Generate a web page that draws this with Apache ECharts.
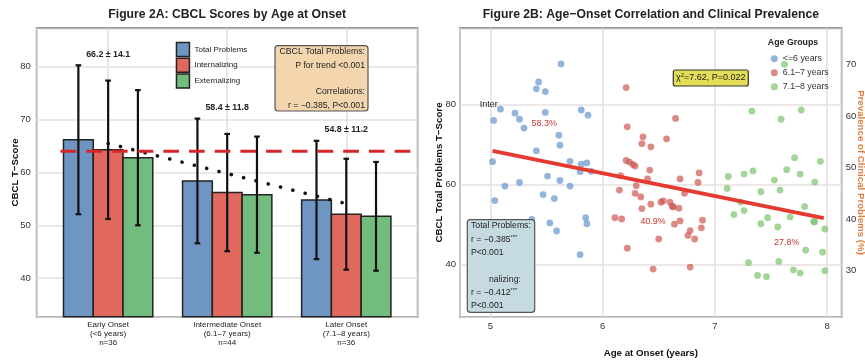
<!DOCTYPE html>
<html>
<head>
<meta charset="utf-8">
<script src="https://cdn.jsdelivr.net/npm/echarts@6/dist/echarts.min.js"></script>
<style>
  html, body { margin: 0; padding: 0; background: #fff; }
  #chart { width: 865px; height: 362px; }
</style>
</head>
<body>
<div id="chart"></div>
<script>
// ---- Figure 2A: group means / SDs ----
const groups = ["Early Onset\n(<6 years)\nn=36", "Intermediate Onset\n(6.1–7 years)\nn=44", "Later Onset\n(7.1–8 years)\nn=36"];
const measures = ["Total Problems", "Internalizing", "Externalizing"];
const meanTotal = [66.2, 58.4, 54.8];
const sdTotal = [14.1, 11.8, 11.2];
const meanInt = [64.3, 56.2, 52.1];
const sdInt = [13.1, 11.1, 10.5];
const meanExt = [62.8, 55.8, 51.7];
const sdExt = [12.8, 11.0, 10.3];
const trendTotal = [65.5, 59.8, 54.1];
const clinicalCut = 64;

// ---- Figure 2B: individual points ----
const ageGroups = ["<=6 years", "6.1–7 years", "7.1–8 years"];
const ageEarly = [5.63, 5.43, 5.41, 5.49, 5.09, 5.22, 5.49, 5.81, 5.03, 5.26, 5.30, 5.87, 5.61, 5.62, 5.41, 5.02, 5.71, 5.81,
  5.86, 5.80, 5.90, 5.51, 5.62, 5.26, 5.13, 5.71, 5.04, 5.47, 5.57, 5.37, 5.53, 5.59, 5.85, 5.86, 5.80];
const tEarly = [90.1, 85.6, 83.9, 83.2, 78.8, 77.8, 78.0, 78.6, 76.0, 76.3, 74.1, 77.3, 72.3, 69.8, 68.4, 65.7, 65.8, 65.1,
  65.4, 63.2, 63.3, 62.1, 61.0, 60.5, 59.6, 59.6, 56.0, 57.5, 56.5, 51.3, 50.4, 48.4, 51.7, 50.2, 42.5];
const ageMid = [6.21, 6.65, 6.22, 6.36, 6.57, 6.35, 6.43, 6.21, 6.24, 6.27, 6.29, 6.42, 6.86, 6.16, 6.40, 6.69, 6.85, 6.15,
  6.30, 6.29, 6.34, 6.73, 6.43, 6.35, 6.52, 6.54, 6.60, 6.62, 6.63, 6.68, 6.11, 6.17, 6.69, 6.64, 6.89, 6.88, 6.78, 6.76,
  6.82, 6.50, 6.22, 6.45, 6.78];
const tMid = [84.2, 76.5, 74.4, 71.9, 71.4, 70.2, 69.4, 66.0, 65.6, 65.0, 64.6, 63.6, 62.9, 62.2, 61.4, 61.4, 60.5, 58.6,
  59.7, 57.8, 56.9, 57.8, 55.1, 54.0, 55.6, 55.9, 55.6, 54.6, 54.4, 54.1, 51.7, 51.4, 50.9, 50.1, 51.1, 49.2, 48.5, 47.3,
  46.4, 46.4, 44.1, 38.9, 39.4];
const ageLate = [7.62, 7.33, 7.77, 7.59, 7.71, 7.94, 7.64, 7.76, 7.12, 7.26, 7.34, 7.53, 7.89, 7.11, 7.41, 7.58, 7.23, 7.17,
  7.26, 7.41, 7.47, 7.67, 7.80, 7.56, 7.89, 7.88, 7.98, 7.81, 7.96, 7.30, 7.57, 7.70, 7.76, 7.38, 7.46, 7.98];
const tLate = [90.0, 78.3, 78.6, 76.3, 66.7, 65.8, 63.7, 62.6, 62.0, 62.6, 63.4, 61.1, 60.6, 59.0, 58.2, 58.6, 55.6, 52.5,
  53.5, 50.2, 51.7, 51.9, 54.5, 49.4, 50.7, 50.7, 48.9, 43.6, 43.1, 40.5, 40.8, 38.7, 37.9, 37.3, 37.0, 38.5];
const fitAge = [5.02, 7.97];
const fitT = [68.4, 51.6];
const prevLabels = ["58.3%", "40.9%", "27.8%"];
const prevAge = [5.48, 6.45, 7.64];
const prevT = [75.1, 50.8, 45.4];

const FONT = '"Liberation Sans", Arial, sans-serif';
const GRID_LINE = "#e7e0e0";
const BAR_COLORS = ["#6f96c2", "#e0685c", "#72bd7d"];
const DOT_COLORS = ["#6595cd", "#cc5952", "#7cc370"];
const BAR_W = 0.25;
const OFFSETS = [-0.25, 0, 0.25];
const Y_MIN_A = 32.7;

function f(size, weight) {
  return (weight ? weight + " " : "") + size + "px " + FONT;
}

function barSeries(k, means) {
  return {
    name: measures[k],
    type: "custom",
    xAxisIndex: 0,
    yAxisIndex: 0,
    itemStyle: { color: BAR_COLORS[k] },
    data: means.map((m, i) => [i, m]),
    z: 2,
    renderItem: (params, api) => {
      const x = api.value(0) + OFFSETS[k];
      const p1 = api.coord([x - BAR_W / 2, api.value(1)]);
      const p2 = api.coord([x + BAR_W / 2, Y_MIN_A]);
      return {
        type: "rect",
        shape: { x: p1[0], y: p1[1], width: p2[0] - p1[0], height: p2[1] - p1[1] },
        style: { fill: BAR_COLORS[k], stroke: "#222", lineWidth: 1.5 }
      };
    }
  };
}

const errData = [];
[[meanTotal, sdTotal], [meanInt, sdInt], [meanExt, sdExt]].forEach((pair, k) => {
  pair[0].forEach((m, i) => errData.push([i + OFFSETS[k], m, pair[1][i]]));
});

function textSeries(gridIdx, xs, ys, labels, font, color, align) {
  return {
    type: "custom",
    xAxisIndex: gridIdx,
    yAxisIndex: gridIdx,
    silent: true,
    z: 10,
    data: xs.map((x, i) => [x, ys[i]]),
    renderItem: (params, api) => {
      const p = api.coord([api.value(0), api.value(1)]);
      return {
        type: "text",
        x: p[0],
        y: p[1],
        style: { text: labels[params.dataIndex], font: font, fill: color, align: align || "center", verticalAlign: "middle" }
      };
    }
  };
}

function scatterSeries(k, ages, ts) {
  return {
    name: ageGroups[k],
    type: "scatter",
    xAxisIndex: 1,
    yAxisIndex: 1,
    symbolSize: 6.8,
    itemStyle: { color: DOT_COLORS[k], opacity: 0.7 },
    data: ages.map((a, i) => [a, ts[i]]),
    z: 3
  };
}

function label(x, y, text, font, color, align, rot) {
  return {
    type: "text", x: x, y: y, rotation: rot || 0, z: 100,
    style: { text: text, font: font, fill: color || "#222", align: align || "center", verticalAlign: "middle" }
  };
}

const supRich = {
  n: { font: f(8.7), fill: "#222" },
  s: { font: f(5.5), fill: "#222", verticalAlign: "top", padding: [0, 0, 4, 0] }
};

const chart = echarts.init(document.getElementById("chart"));
const option = {
  animation: false,
  backgroundColor: "#fff",
  textStyle: { fontFamily: FONT },
  grid: [
    { left: 36.7, top: 28.3, width: 381, height: 288.4, show: true, backgroundColor: "#fff", borderColor: "#333", borderWidth: 1.6 },
    { left: 460, top: 28.3, width: 381.7, height: 288.4, show: true, backgroundColor: "#fff", borderColor: "#333", borderWidth: 1.6 }
  ],
  xAxis: [
    {
      type: "value", gridIndex: 0, min: -0.6, max: 2.6, splitNumber: 3, minInterval: 1,
      axisLine: { show: false }, axisTick: { show: false },
      splitLine: { lineStyle: { color: GRID_LINE, width: 1.6 } },
      axisLabel: {
        margin: 4, fontSize: 8, lineHeight: 9, color: "#222", showMinLabel: false, showMaxLabel: false,
        formatter: (v) => {
          const i = Math.round(v);
          return Math.abs(v - i) < 1e-6 && i >= 0 && i < groups.length ? groups[i] : "";
        }
      }
    },
    {
      type: "value", gridIndex: 1, min: 4.73, max: 8.13, splitNumber: 3, minInterval: 1,
      axisLine: { show: false }, axisTick: { show: false },
      splitLine: { lineStyle: { color: GRID_LINE, width: 1.6 } },
      axisLabel: { margin: 5, fontSize: 9.5, color: "#333", showMinLabel: false, showMaxLabel: false }
    }
  ],
  yAxis: [
    {
      type: "value", gridIndex: 0, min: Y_MIN_A, max: 87.3,
      axisLine: { show: false }, axisTick: { show: false },
      splitLine: { lineStyle: { color: GRID_LINE, width: 1.6 } },
      axisLabel: { margin: 6, fontSize: 9.5, color: "#333", showMinLabel: false, showMaxLabel: false }
    },
    {
      type: "value", gridIndex: 1, min: 27, max: 99, splitNumber: 3, minInterval: 20,
      axisLine: { show: false }, axisTick: { show: false },
      splitLine: { lineStyle: { color: GRID_LINE, width: 1.6 } },
      axisLabel: { margin: 4, fontSize: 9.5, color: "#333", showMinLabel: false, showMaxLabel: false }
    },
    {
      type: "value", gridIndex: 1, position: "right", min: 21.1, max: 77.0,
      axisLine: { show: false }, axisTick: { show: false }, splitLine: { show: false },
      axisLabel: { margin: 4, fontSize: 9.5, color: "#333", showMinLabel: false, showMaxLabel: false }
    }
  ],
  legend: [
    {
      data: measures, orient: "vertical", left: 175.7, top: 41.7, padding: 0,
      icon: "rect", itemWidth: 13, itemHeight: 14, itemGap: 0.3,
      itemStyle: { borderColor: "#222", borderWidth: 1.5 },
      textStyle: { fontSize: 8, color: "#222" }, selectedMode: false
    },
    {
      data: ageGroups, orient: "vertical", left: 770.8, top: 53.2, padding: 0,
      icon: "circle", itemWidth: 7, itemHeight: 7, itemGap: 3,
      textStyle: { fontSize: 8.8, color: "#333", lineHeight: 11 }, selectedMode: false
    }
  ],
  graphic: [
    label(227.2, 15, "Figure 2A: CBCL Scores by Age at Onset", f(12.2, "bold")),
    label(650.8, 15, "Figure 2B: Age−Onset Correlation and Clinical Prevalence", f(12.2, "bold")),
    label(15, 172.5, "CBCL T−Score", f(9.7, "bold"), "#111", "center", Math.PI / 2),
    label(439.5, 172.5, "CBCL Total Problems T−Score", f(9.7, "bold"), "#111", "center", Math.PI / 2),
    label(861, 172.5, "Prevalence of Clinical Problems (%)", f(9.7, "bold"), "#e07b39", "center", -Math.PI / 2),
    label(650.8, 353, "Age at Onset (years)", f(9.7, "bold"), "#111"),
    label(793, 42.7, "Age Groups", f(8.8, "bold"), "#222"),
    // trend / correlation note
    { type: "rect", z: 99, shape: { x: 275, y: 45.7, width: 93, height: 65.3, r: 3 }, style: { fill: "#f3d6ae", stroke: "#555", lineWidth: 1.2 } },
    label(365, 52, "CBCL Total Problems:", f(8.7), "#222", "right"),
    label(365, 65.3, "P for trend <0.001", f(8.7), "#222", "right"),
    label(365, 91.9, "Correlations:", f(8.7), "#222", "right"),
    label(365, 105.2, "r = −0.385, P<0.001", f(8.7), "#222", "right"),
    // chi-square box
    { type: "rect", z: 99, shape: { x: 673.3, y: 70, width: 75, height: 16, r: 2 }, style: { fill: "#e4dd57", stroke: "#333", lineWidth: 1.2 } },
    {
      type: "text", x: 710.8, y: 78, z: 100,
      style: { text: "{n|χ}{s|2}{n|=7.62, P=0.022}", rich: { n: { font: f(9), fill: "#222" }, s: { font: f(6), fill: "#222", verticalAlign: "top", padding: [0, 0, 5, 0] } }, align: "center", verticalAlign: "middle" }
    },
    // correlation box
    { type: "rect", z: 99, shape: { x: 467.3, y: 219.7, width: 67.4, height: 92.6, r: 3 }, style: { fill: "#c6dbe1", stroke: "#555", lineWidth: 1.2 } },
    label(471, 226, "Total Problems:", f(8.7), "#222", "left"),
    { type: "text", x: 471, y: 239.3, z: 100, style: { text: "{n|r = −0.385}{s|***}", rich: supRich, align: "left", verticalAlign: "middle" } },
    label(471, 252.6, "P<0.001", f(8.7), "#222", "left"),
    label(489, 279.2, "nalizing:", f(8.7), "#222", "left"),
    { type: "text", x: 471, y: 292.5, z: 100, style: { text: "{n|r = −0.412}{s|***}", rich: supRich, align: "left", verticalAlign: "middle" } },
    label(471, 305.8, "P<0.001", f(8.7), "#222", "left")
  ],
  series: [
    barSeries(0, meanTotal),
    barSeries(1, meanInt),
    barSeries(2, meanExt),
    {
      type: "custom", xAxisIndex: 0, yAxisIndex: 0, silent: true, z: 4,
      data: errData,
      renderItem: (params, api) => {
        const x = api.value(0), m = api.value(1), s = api.value(2);
        const top = api.coord([x, m + s]);
        const bot = api.coord([x, m - s]);
        const st = { stroke: "#111", lineWidth: 2.2 };
        return {
          type: "group",
          children: [
            { type: "line", shape: { x1: top[0], y1: top[1], x2: bot[0], y2: bot[1] }, style: st },
            { type: "line", shape: { x1: top[0] - 2.8, y1: top[1], x2: top[0] + 2.8, y2: top[1] }, style: st },
            { type: "line", shape: { x1: bot[0] - 2.8, y1: bot[1], x2: bot[0] + 2.8, y2: bot[1] }, style: st }
          ]
        };
      }
    },
    {
      type: "line", xAxisIndex: 0, yAxisIndex: 0, symbol: "none", silent: true, z: 5,
      data: trendTotal.map((v, i) => [i, v]),
      lineStyle: { color: "#111", width: 3.6, type: [0.1, 12.6], cap: "round" }
    },
    {
      type: "line", xAxisIndex: 0, yAxisIndex: 0, symbol: "none", silent: true, z: 5,
      data: [[-0.4, clinicalCut], [2.6, clinicalCut]],
      lineStyle: { color: "#d62728", width: 3, type: [15.7, 10] }
    },
    textSeries(0, [0, 1, 2], meanTotal.map((m, i) => m + sdTotal[i] + 2.05),
      meanTotal.map((m, i) => m.toFixed(1) + " ± " + sdTotal[i].toFixed(1)), f(8.8, "bold"), "#222"),
    scatterSeries(0, ageEarly, tEarly),
    scatterSeries(1, ageMid, tMid),
    scatterSeries(2, ageLate, tLate),
    {
      type: "line", xAxisIndex: 1, yAxisIndex: 1, symbol: "none", silent: true, z: 6,
      data: fitAge.map((a, i) => [a, fitT[i]]),
      lineStyle: { color: "#e53a2f", width: 4 }
    },
    textSeries(1, prevAge, prevT, prevLabels, f(8.9), "#c9342d"),
    textSeries(1, [4.905], [80], ["Inter"], f(9), "#222", "left")
  ]
};
chart.setOption(option);
</script>
</body>
</html>
